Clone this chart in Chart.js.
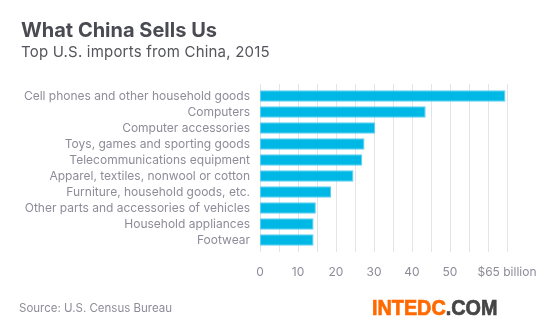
<!DOCTYPE html>
<html>
<head>
<meta charset="utf-8">
<script src="https://cdn.jsdelivr.net/npm/chart.js@4.4.0/dist/chart.umd.min.js"></script>
<style>
    html, body { margin: 0; padding: 0; background: #fff; }
    body { width: 557px; height: 336px; position: relative; overflow: hidden; font-family: Inter, Roboto, sans-serif; }
    #wrap { position: absolute; left: 0; top: 0; width: 557px; height: 336px; }
    .title { position: absolute; left: 21px; top: 18px; font-size: 20px; font-weight: 700; color: #4a4a53; }
    .subtitle { position: absolute; left: 21px; top: 42px; font-size: 15px; letter-spacing: 0.2px; color: #55555d; }
    .source { position: absolute; left: 19px; top: 301px; font-size: 11.5px; color: #8d8c99; }
    .logo { position: absolute; left: 372px; top: 295px; font-size: 22px; font-weight: 700; font-family: "Liberation Sans", sans-serif; color: #ff6a00; -webkit-text-stroke: 0.7px #ff6a00; transform: scaleX(0.9); transform-origin: left top; }
    .logo span { color: #454545; -webkit-text-stroke: 0.7px #454545; }
</style>
</head>
<body>
<div id="wrap"><canvas id="chart" width="557" height="336"></canvas></div>
<div class="title">What China Sells Us</div>
<div class="subtitle">Top U.S. imports from China, 2015</div>
<div class="source">Source: U.S. Census Bureau</div>
<div class="logo">INTEDC<span>.COM</span></div>
<script>
// Chart data
const categories = [
    'Cell phones and other household goods',
    'Computers',
    'Computer accessories',
    'Toys, games and sporting goods',
    'Telecommunications equipment',
    'Apparel, textiles, nonwool or cotton',
    'Furniture, household goods, etc.',
    'Other parts and accessories of vehicles',
    'Household appliances',
    'Footwear'
];
const importValues = [64.6, 43.6, 30.3, 27.5, 26.9, 24.6, 18.7, 14.7, 14.1, 14.1];
const tickLabels = { 0: '0', 10: '10', 20: '20', 30: '30', 40: '40', 50: '50', 65: '$65 billion' };

// Gridlines drawn a little past the plot area, like the original
const gridPlugin = {
    id: 'gridLines',
    beforeDatasetsDraw(chart) {
        const { ctx, chartArea, scales } = chart;
        ctx.save();
        ctx.strokeStyle = '#e4e4e6';
        ctx.lineWidth = 1;
        scales.x.ticks.forEach(t => {
            const x = Math.round(scales.x.getPixelForValue(t.value)) + 0.5;
            ctx.beginPath();
            ctx.moveTo(x, chartArea.top - 4);
            ctx.lineTo(x, chartArea.bottom + 4);
            ctx.stroke();
        });
        ctx.restore();
    }
};

document.addEventListener('DOMContentLoaded', function() {
    const ctx = document.getElementById('chart');
    new Chart(ctx, {
        type: 'bar',
        data: {
            labels: categories,
            datasets: [{
                data: importValues,
                backgroundColor: '#00b8e6',
                borderColor: '#5ccdef',
                borderWidth: 1,
                borderSkipped: false,
                barPercentage: 0.73,
                categoryPercentage: 1
            }]
        },
        options: {
            indexAxis: 'y',
            responsive: false,
            animation: false,
            layout: { padding: { top: 88, right: 50, left: 0, bottom: 0 } },
            plugins: {
                legend: { display: false },
                tooltip: { enabled: false }
            },
            scales: {
                x: {
                    min: 0,
                    max: 65,
                    grid: { display: false },
                    border: { display: false },
                    afterFit: function(scale) { scale.height = 88; },
                    afterBuildTicks: function(scale) {
                        const ticks = [];
                        for (let v = 0; v <= 65; v += 5) ticks.push({ value: v });
                        scale.ticks = ticks;
                    },
                    ticks: {
                        autoSkip: false,
                        maxRotation: 0,
                        padding: 9,
                        color: '#8d8c99',
                        font: { family: 'Inter', size: 12 },
                        callback: function(value) {
                            return tickLabels[value] !== undefined ? tickLabels[value] : '';
                        }
                    }
                },
                y: {
                    grid: { display: false },
                    border: { display: false },
                    afterFit: function(scale) { scale.width = 260; },
                    ticks: {
                        autoSkip: false,
                        padding: 2,
                        color: '#8d8c99',
                        font: { family: 'Inter', size: 12 }
                    }
                }
            }
        },
        plugins: [gridPlugin]
    });
});
</script>
</body>
</html>
